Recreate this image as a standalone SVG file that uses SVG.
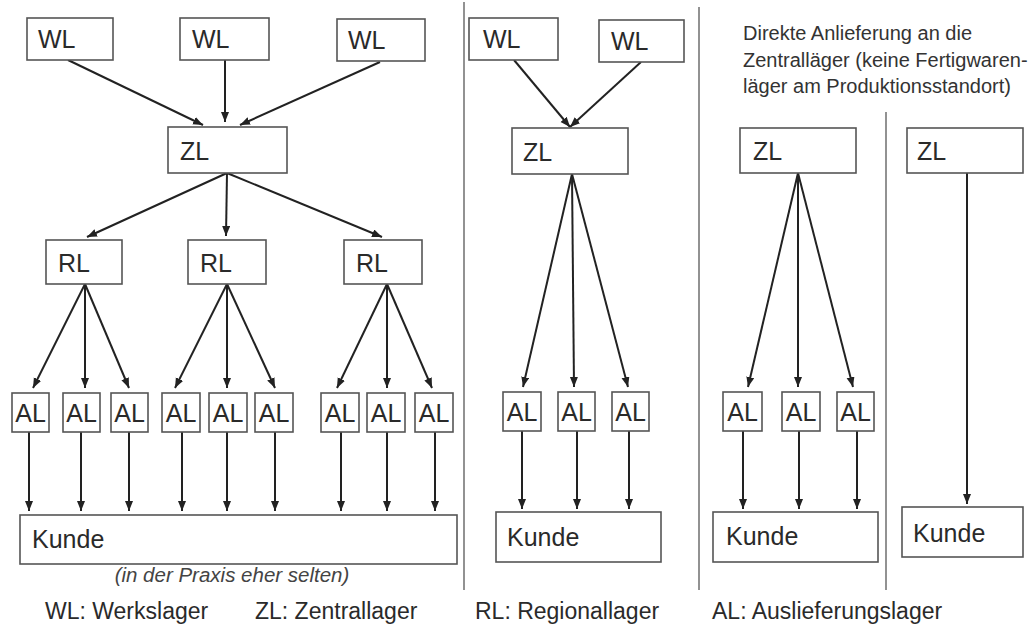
<svg xmlns="http://www.w3.org/2000/svg" width="1035" height="632" viewBox="0 0 1035 632">
<style>
.box{fill:#fff;stroke:#555;stroke-width:1.6}
.lbl{font-family:"Liberation Sans",Arial,sans-serif;font-size:25px;fill:#2a2a2a}
.al{font-family:"Liberation Sans",Arial,sans-serif;font-size:25px;fill:#2a2a2a;text-anchor:middle}
.leg{font-family:"Liberation Sans",Arial,sans-serif;font-size:23px;fill:#2a2a2a}
.note{font-family:"Liberation Sans",Arial,sans-serif;font-size:20px;fill:#333}
.it{font-family:"Liberation Sans",Arial,sans-serif;font-size:20.5px;font-style:italic;fill:#444}
.div{stroke:#777;stroke-width:1.6}
.arr{stroke:#222;stroke-width:2;fill:none;marker-end:url(#ah)}
</style>
<defs>
<marker id="ah" markerUnits="userSpaceOnUse" markerWidth="12" markerHeight="10" refX="10" refY="4" orient="auto">
<path d="M0,0 L10,4 L0,8 Z" fill="#222"/>
</marker>
</defs>
<rect width="1035" height="632" fill="#fff"/>
<g id="dividers">
<line class="div" x1="464" y1="2" x2="464" y2="590"/>
<line class="div" x1="699" y1="7" x2="699" y2="590"/>
<line class="div" x1="886" y1="112" x2="886" y2="590"/>
</g>
<g id="connectors">
<line class="arr" x1="68" y1="60" x2="203" y2="125"/>
<line class="arr" x1="225" y1="60" x2="225" y2="122"/>
<line class="arr" x1="380" y1="62" x2="240" y2="125"/>
<line class="arr" x1="227" y1="173" x2="87" y2="237"/>
<line class="arr" x1="227" y1="173" x2="226" y2="236"/>
<line class="arr" x1="227" y1="173" x2="382" y2="237"/>
<line class="arr" x1="85" y1="284" x2="33" y2="388"/>
<line class="arr" x1="85" y1="284" x2="85" y2="388"/>
<line class="arr" x1="85" y1="284" x2="129" y2="388"/>
<line class="arr" x1="227" y1="284" x2="175" y2="388"/>
<line class="arr" x1="227" y1="284" x2="227" y2="388"/>
<line class="arr" x1="227" y1="284" x2="275" y2="388"/>
<line class="arr" x1="387" y1="284" x2="337" y2="388"/>
<line class="arr" x1="387" y1="284" x2="387" y2="388"/>
<line class="arr" x1="387" y1="284" x2="432" y2="388"/>
<line class="arr" x1="29" y1="432" x2="29" y2="511"/>
<line class="arr" x1="81" y1="432" x2="81" y2="511"/>
<line class="arr" x1="129" y1="432" x2="129" y2="511"/>
<line class="arr" x1="182" y1="432" x2="182" y2="511"/>
<line class="arr" x1="227" y1="432" x2="227" y2="511"/>
<line class="arr" x1="275" y1="432" x2="275" y2="511"/>
<line class="arr" x1="341" y1="432" x2="341" y2="511"/>
<line class="arr" x1="387" y1="432" x2="387" y2="511"/>
<line class="arr" x1="435" y1="432" x2="435" y2="511"/>
<line class="arr" x1="514" y1="60" x2="570" y2="127"/>
<line class="arr" x1="641" y1="62" x2="570" y2="127"/>
<line class="arr" x1="572" y1="174" x2="523" y2="387"/>
<line class="arr" x1="572" y1="174" x2="574" y2="387"/>
<line class="arr" x1="572" y1="174" x2="628" y2="387"/>
<line class="arr" x1="522" y1="431" x2="522" y2="509"/>
<line class="arr" x1="577" y1="431" x2="577" y2="509"/>
<line class="arr" x1="629" y1="431" x2="629" y2="509"/>
<line class="arr" x1="798" y1="173" x2="748" y2="387"/>
<line class="arr" x1="798" y1="173" x2="798" y2="387"/>
<line class="arr" x1="798" y1="173" x2="853" y2="387"/>
<line class="arr" x1="743" y1="431" x2="743" y2="509"/>
<line class="arr" x1="799" y1="431" x2="799" y2="509"/>
<line class="arr" x1="857" y1="431" x2="857" y2="509"/>
<line class="arr" x1="967" y1="173" x2="967" y2="504"/>
</g>
<g id="wl1"><rect class="box" x="27" y="18" width="86" height="42"/><text class="lbl" x="38" y="48">WL</text></g>
<g id="wl2"><rect class="box" x="180" y="18" width="89" height="42"/><text class="lbl" x="192" y="48">WL</text></g>
<g id="wl3"><rect class="box" x="337" y="19" width="88" height="42"/><text class="lbl" x="348" y="49">WL</text></g>
<g id="zl1"><rect class="box" x="168" y="127" width="119" height="46"/><text class="lbl" x="180" y="160">ZL</text></g>
<g id="rl1"><rect class="box" x="46" y="240" width="76" height="44"/><text class="lbl" x="58" y="272">RL</text></g>
<g id="rl2"><rect class="box" x="188" y="240" width="78" height="44"/><text class="lbl" x="200" y="272">RL</text></g>
<g id="rl3"><rect class="box" x="344" y="240" width="78" height="44"/><text class="lbl" x="356" y="272">RL</text></g>
<g id="al1"><rect class="box" x="12" y="393" width="37" height="39"/><text class="al" x="30.5" y="422">AL</text></g>
<g id="al2"><rect class="box" x="63" y="393" width="37" height="39"/><text class="al" x="81.5" y="422">AL</text></g>
<g id="al3"><rect class="box" x="111" y="393" width="37" height="39"/><text class="al" x="129.5" y="422">AL</text></g>
<g id="al4"><rect class="box" x="162" y="393" width="38" height="39"/><text class="al" x="181" y="422">AL</text></g>
<g id="al5"><rect class="box" x="209" y="393" width="38" height="39"/><text class="al" x="228" y="422">AL</text></g>
<g id="al6"><rect class="box" x="255" y="393" width="38" height="39"/><text class="al" x="274" y="422">AL</text></g>
<g id="al7"><rect class="box" x="321" y="393" width="38" height="39"/><text class="al" x="340" y="422">AL</text></g>
<g id="al8"><rect class="box" x="367" y="393" width="38" height="39"/><text class="al" x="386" y="422">AL</text></g>
<g id="al9"><rect class="box" x="415" y="393" width="38" height="39"/><text class="al" x="434" y="422">AL</text></g>
<g id="kunde1"><rect class="box" x="20" y="515" width="437" height="49"/><text class="lbl" x="32" y="548">Kunde</text></g>
<text class="it" x="232" y="582" text-anchor="middle">(in der Praxis eher selten)</text>
<g id="wl4"><rect class="box" x="469" y="18" width="89" height="42"/><text class="lbl" x="483" y="48">WL</text></g>
<g id="wl5"><rect class="box" x="599" y="20" width="85" height="42"/><text class="lbl" x="611" y="50">WL</text></g>
<g id="zl2"><rect class="box" x="512" y="128" width="116" height="46"/><text class="lbl" x="523" y="161">ZL</text></g>
<g id="al10"><rect class="box" x="503" y="392" width="38" height="39"/><text class="al" x="522" y="421">AL</text></g>
<g id="al11"><rect class="box" x="558" y="392" width="37" height="39"/><text class="al" x="576.5" y="421">AL</text></g>
<g id="al12"><rect class="box" x="612" y="392" width="37" height="39"/><text class="al" x="630.5" y="421">AL</text></g>
<g id="kunde2"><rect class="box" x="496" y="512" width="165" height="50"/><text class="lbl" x="507" y="546">Kunde</text></g>
<g id="note">
<text class="note" x="743" y="40">Direkte Anlieferung an die</text>
<text class="note" x="743" y="67">Zentralläger (keine Fertigwaren-</text>
<text class="note" x="743" y="93">läger am Produktionsstandort)</text>
</g>
<g id="zl3"><rect class="box" x="740" y="128" width="116" height="45"/><text class="lbl" x="753" y="160">ZL</text></g>
<g id="al13"><rect class="box" x="723" y="392" width="39" height="39"/><text class="al" x="742.5" y="421">AL</text></g>
<g id="al14"><rect class="box" x="782" y="392" width="38" height="39"/><text class="al" x="801" y="421">AL</text></g>
<g id="al15"><rect class="box" x="837" y="392" width="37" height="39"/><text class="al" x="855.5" y="421">AL</text></g>
<g id="kunde3"><rect class="box" x="713" y="512" width="165" height="50"/><text class="lbl" x="726" y="545">Kunde</text></g>
<g id="zl4"><rect class="box" x="907" y="128" width="116" height="45"/><text class="lbl" x="917" y="160">ZL</text></g>
<g id="kunde4"><rect class="box" x="902" y="507" width="121" height="50"/><text class="lbl" x="913" y="542">Kunde</text></g>
<g id="legend">
<text class="leg" x="45" y="619">WL: Werkslager</text>
<text class="leg" x="255" y="619">ZL: Zentrallager</text>
<text class="leg" x="475" y="619">RL: Regionallager</text>
<text class="leg" x="712" y="619">AL: Auslieferungslager</text>
</g>
</svg>
